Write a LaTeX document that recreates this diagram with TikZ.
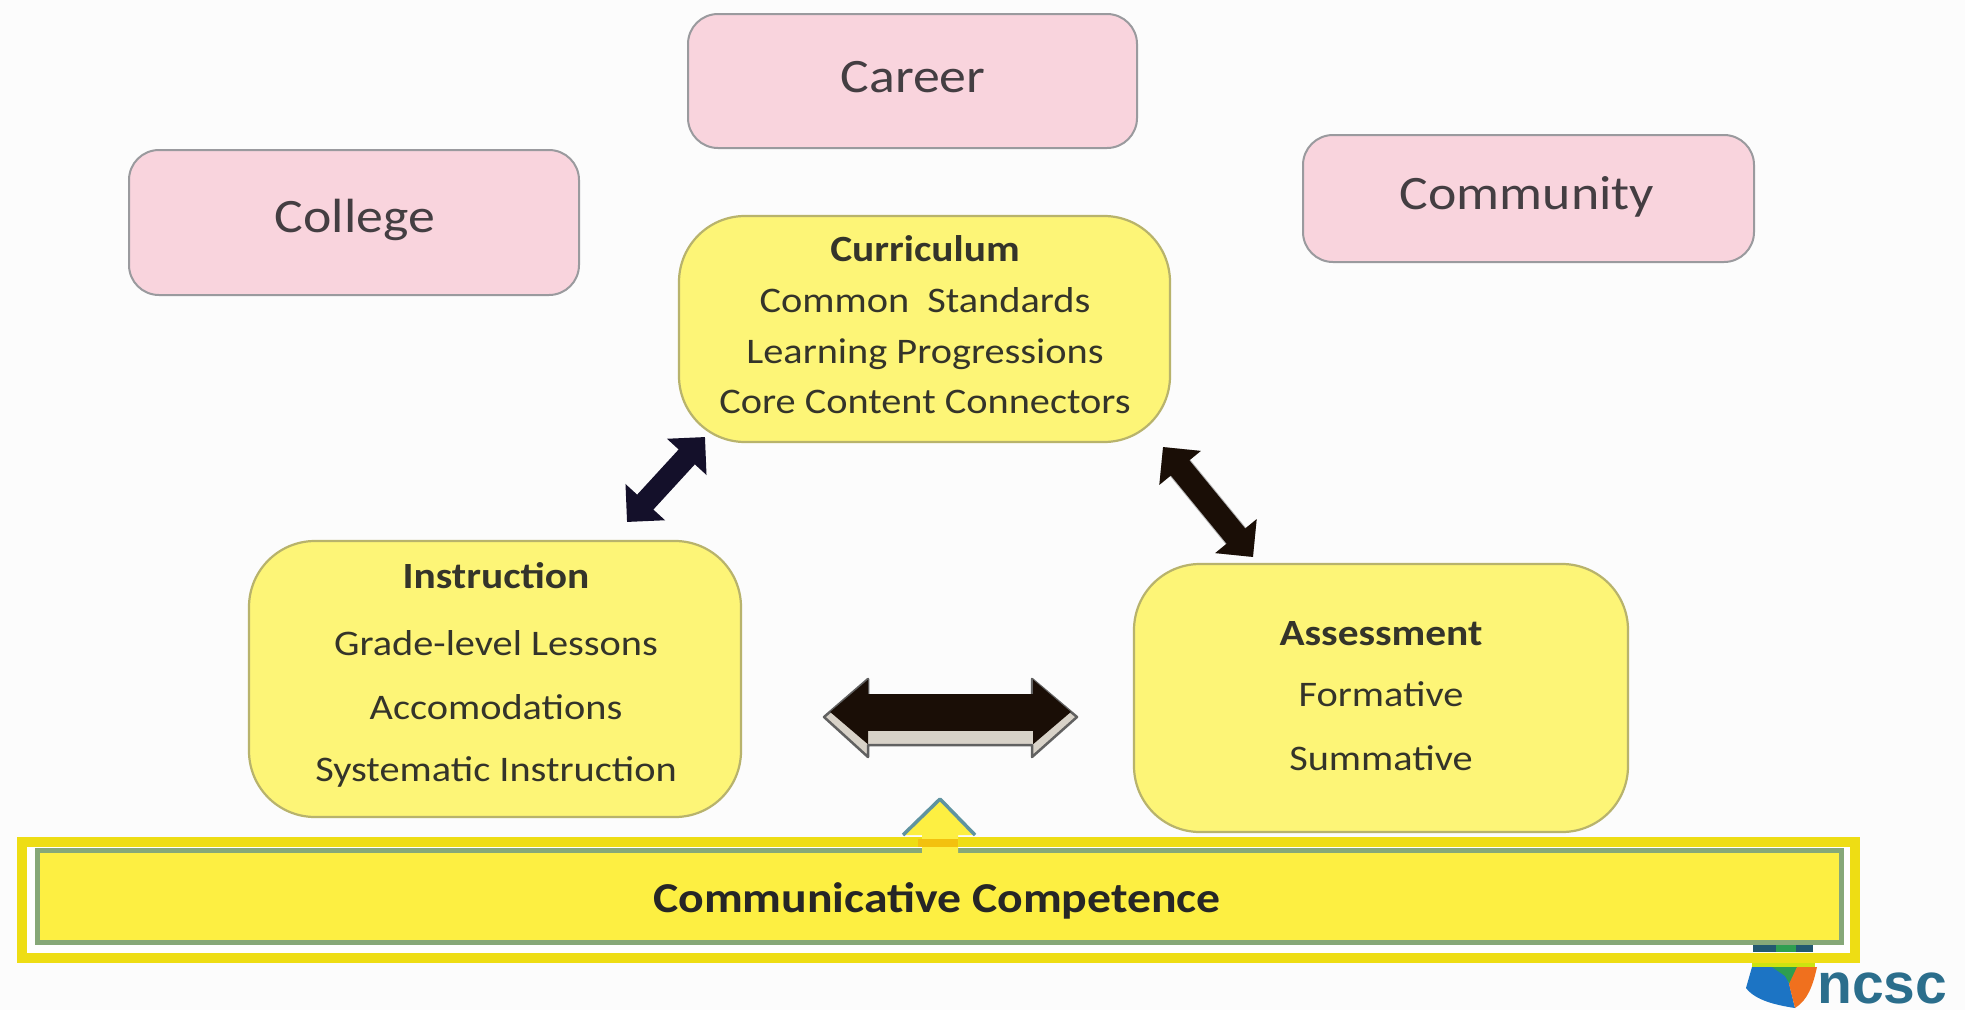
\documentclass[tikz,border=0pt]{standalone}
\usepackage{fontspec}
\setmainfont[FakeStretch=1.12]{Carlito}
\newfontfamily\logofont{Liberation Sans}
\usetikzlibrary{arrows.meta,calc}
\definecolor{pinkfill}{HTML}{F9D4DD}
\definecolor{pinkline}{HTML}{9A9A9E}
\definecolor{yelfill}{HTML}{FDF577}
\definecolor{yelline}{HTML}{B8B36C}
\definecolor{barfill}{HTML}{FDEF42}
\definecolor{barline}{HTML}{86A878}
\definecolor{frameyel}{HTML}{EEDD14}
\definecolor{inktext}{HTML}{34342A}
\definecolor{pinktext}{HTML}{443E42}
\definecolor{arrowblack}{HTML}{1A0E06}
\definecolor{arrownavy}{HTML}{14102A}
\definecolor{logoteal}{HTML}{2B6E8C}
\definecolor{triline}{HTML}{5F93A0}
\definecolor{beige}{HTML}{D8D2C8}
\definecolor{logoblue}{HTML}{1C74C4}
\definecolor{logogreen}{HTML}{2E9E50}
\definecolor{logoorange}{HTML}{F0701E}
\newcommand{\ttl}[1]{{\fontsize{37}{40}\selectfont\bfseries #1}}
\tikzset{
  goalbox/.style={draw=pinkline,fill=pinkfill,line width=2pt,rounded corners=30pt,inner sep=0pt},
  goaltext/.style={text=pinktext,font=\fontsize{48}{56}\selectfont},
  pillarbox/.style={draw=yelline,fill=yelfill,line width=2.2pt,rounded corners=66pt,inner sep=0pt},
  pillartext/.style={align=center,text=inktext,font=\fontsize{36}{40}\selectfont},
  smallarrow/.style={line width=#1,{Triangle[length=27pt,width=52pt]}-{Triangle[length=27pt,width=52pt]}},
  bigback/.style={draw=black!62,fill=beige,line width=2.5pt,line join=round},
  bigarrow/.style={line width=37pt,arrowblack,{Triangle[length=38pt,width=62pt]}-{Triangle[length=38pt,width=62pt]}},
}
\begin{document}
\begin{tikzpicture}[x=1pt,y=-1pt]
\useasboundingbox (0,0) rectangle (1965,1010);
\fill[white!99!black] (0,0) rectangle (1965,1010);

% goals
\node[goalbox,minimum width=449pt,minimum height=134pt] (career) at (912.5,81) {};
\node[goaltext] (careertxt) at (913,77) {Career};
\node[goalbox,minimum width=450pt,minimum height=145pt] (college) at (354,222.5) {};
\node[goaltext] (collegetxt) at (355,220) {College};
\node[goalbox,minimum width=451pt,minimum height=127pt] (community) at (1528.5,198.5) {};
\node[goaltext] (communitytxt) at (1527,197) {Community};

% pillars
\node[pillarbox,minimum width=491pt,minimum height=226pt] (curriculum) at (924.5,329) {};
\node[pillartext] (curriculumtxt) at (925,325)
  {\ttl{Curriculum}\\[11pt]Common\ \ Standards\\[11pt]Learning Progressions\\[10pt]Core Content Connectors};
\node[pillarbox,minimum width=492pt,minimum height=276pt] (instruction) at (495,679) {};
\node[pillartext] (instructiontxt) at (496,675)
  {\ttl{Instruction}\\[27pt]Grade-level Lessons\\[24pt]Accomodations\\[22pt]Systematic Instruction};
\node[pillarbox,minimum width=494pt,minimum height=268pt] (assessment) at (1381,698) {};
\node[pillartext] (assessmenttxt) at (1381,696)
  {\ttl{Assessment}\\[21pt]Formative\\[24pt]Summative};

% small connectors
\coordinate (ci) at (705,437);
\coordinate (ic) at (627,522);
\coordinate (ca) at (1163,447);
\coordinate (ac) at (1253,557);
\draw[smallarrow=22pt,arrownavy] (ci) -- (ic);
\draw[smallarrow=26pt,black!30,shift={(2pt,-1pt)}] (ca) -- (ac);
\draw[smallarrow=24pt,arrowblack] (ca) -- (ac);

% horizontal arrow
\coordinate (hl) at (830,712);
\coordinate (hr) at (1071,712);
\path[bigback] (824,717) -- (868,679) -- (868,697) -- (1032,697) -- (1032,679) -- (1077,717)
  -- (1032,757) -- (1032,745) -- (868,745) -- (868,757) -- cycle;
\draw[bigarrow] (hl) -- (hr);

% communicative competence bar
\node[draw=frameyel,fill=white,line width=10pt,minimum width=1833pt,minimum height=116pt,inner sep=0pt] (frame) at (938,900) {};
\node[draw=barline,fill=barfill,line width=5pt,minimum width=1804pt,minimum height=92pt,inner sep=0pt] (bar) at (939,896.5) {};
\node[text=black!85,font=\fontsize{42.6}{46}\selectfont\bfseries] (bartxt) at (937,901) {Communicative Competence};

% small triangle on the bar
\coordinate (apex) at (940,799);
\coordinate (tl) at (903,835);
\coordinate (tr) at (975,835);
\fill[barfill] (apex) -- (tr) -- (958,835) -- (958,855) -- (922,855) -- (922,835) -- (tl) -- cycle;
\fill[frameyel!70!orange] (918,839) rectangle (958,847);
\draw[triline,line width=3.5pt,line join=round] (tl) -- (apex) -- (tr);

% logo
\fill[logoteal!80!black] (1753,945) rectangle (1813,952);
\fill[logogreen] (1776,945) rectangle (1796,952);
\fill[yellow!80!green] (1752,963) rectangle (1815,969);
\fill[logoblue] (1752,967) -- (1785,967) -- (1795,1008) .. controls (1775,1005) and (1755,1000) .. (1746,988) -- cycle;
\fill[logogreen] (1772,967) -- (1797,967) -- (1792,988) -- (1785,976) -- cycle;
\fill[logoorange] (1797,967) -- (1817,967) .. controls (1813,985) and (1808,1000) .. (1795,1008) -- (1789,984) -- cycle;
\node[anchor=base west,inner sep=0pt,text=logoteal,font=\logofont\fontsize{57}{58}\selectfont\bfseries] (ncsc) at (1817,1003) {ncsc};
\end{tikzpicture}
\end{document}
